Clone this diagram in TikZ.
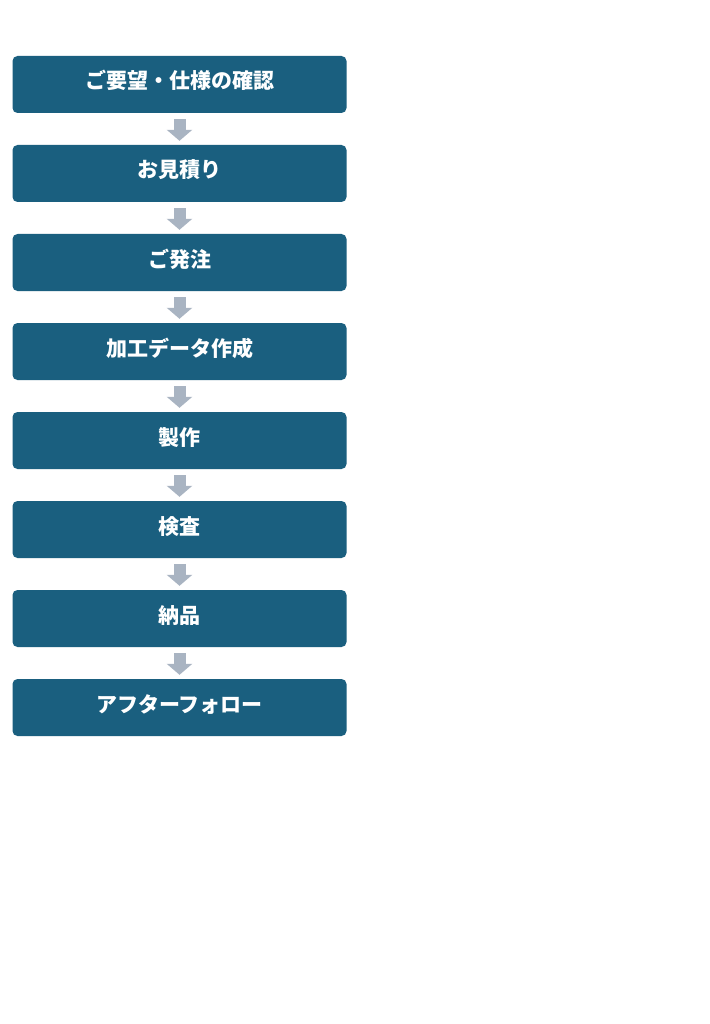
\documentclass[tikz,border=0pt]{standalone}
\usepackage{fontspec}
\newfontfamily\jp{Noto Sans CJK JP}
\usetikzlibrary{arrows.meta}
\definecolor{boxblue}{HTML}{1A5F7F}
\definecolor{arrowgray}{HTML}{A9B4C2}
\tikzset{stepbox/.style={fill=boxblue,rounded corners=5pt,minimum width=334pt,minimum height=57pt,
    text=white,font=\jp\bfseries\fontsize{21}{24}\selectfont,inner sep=0pt}}

\begin{document}
\begin{tikzpicture}[x=1pt,y=1pt,
        flow/.style={arrowgray,line width=12pt,-{Triangle[width=25pt,length=11pt]}}]
    \fill[white] (0,0) rectangle (709,-1024);
    \foreach \t [count=\i] in {ご要望・仕様の確認,お見積り,ご発注,加工データ作成,製作,検査,納品,アフターフォロー}
        \node[stepbox] (s\i) at (179.5,{-84.5-89*(\i-1)}) {\raisebox{-4.5pt}[0pt][0pt]{\t}};
    \foreach \i [remember=\i as \j (initially 1)] in {2,...,8}
        \draw[flow] ([yshift=-6pt]s\j.south) -- ([yshift=4pt]s\i.north);
\end{tikzpicture}
\end{document}
